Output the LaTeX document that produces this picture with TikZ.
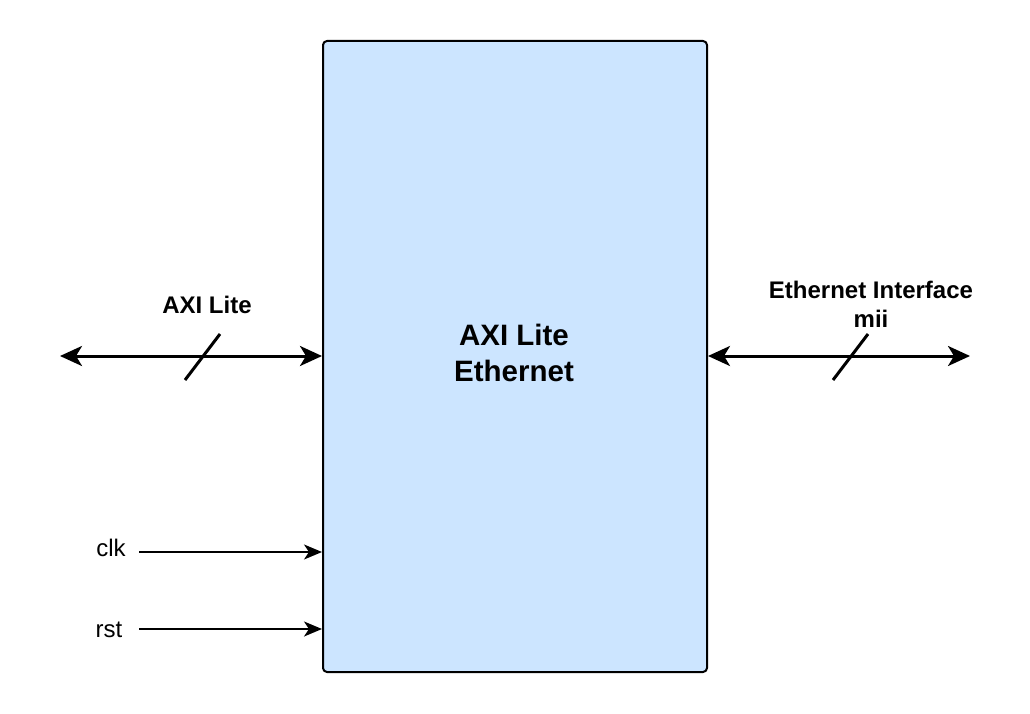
\documentclass[tikz,border=0pt]{standalone}
\usepackage{fontspec}
\setmainfont{Liberation Sans}
\usetikzlibrary{arrows.meta}

\tikzset{
  bus/.style={line width=3pt,{Stealth[length=22pt,width=20pt,inset=6pt]}-{Stealth[length=22pt,width=20pt,inset=6pt]}},
  sig/.style={line width=2pt,-{Stealth[length=18pt,width=15pt,inset=5pt]}},
  lbl/.style={font=\fontsize{24}{29}\selectfont\bfseries,align=center},
  sigtxt/.style={font=\fontsize{24}{29}\selectfont}
}

\begin{document}
\begin{tikzpicture}[line join=round,x=1pt,y=-1pt]
     \useasboundingbox (0,0) rectangle (1030,714);
     \node[draw,line width=2pt,rounded corners=4pt,fill={rgb,255:red,204;green,229;blue,255},
           minimum width=384pt,minimum height=631pt,inner sep=0pt] (eth) at (515,356.5) {}; % Block
     \node[font=\fontsize{29.5}{36}\selectfont\bfseries,align=center] (ethname) at (514,353) {AXI Lite\\Ethernet};

     \coordinate (axiend) at (60,356);
     \coordinate (miiend) at (970,356);
     \coordinate (clkend) at (139,552);
     \coordinate (rstend) at (139,629);

     \draw[bus] (axiend) -- (eth.west |- axiend); % AXI Lite Bus
     \draw[line width=3pt] (185,380) -- (220,334);
     \node[lbl] (axilbl) at (207,305) {AXI Lite};

     \draw[bus] (eth.east |- miiend) -- (miiend); % Ethernet Bus
     \draw[line width=3pt] (833,380) -- (868,334);
     \node[lbl] (miilbl) at (871,304) {Ethernet Interface\\mii};

     \draw[sig] (clkend) -- (eth.west |- clkend); % clk
     \node[sigtxt] (clklbl) at (111,548) {clk};
     \draw[sig] (rstend) -- (eth.west |- rstend); % rst
     \node[sigtxt] (rstlbl) at (109,630) {rst};
\end{tikzpicture}
\end{document}
